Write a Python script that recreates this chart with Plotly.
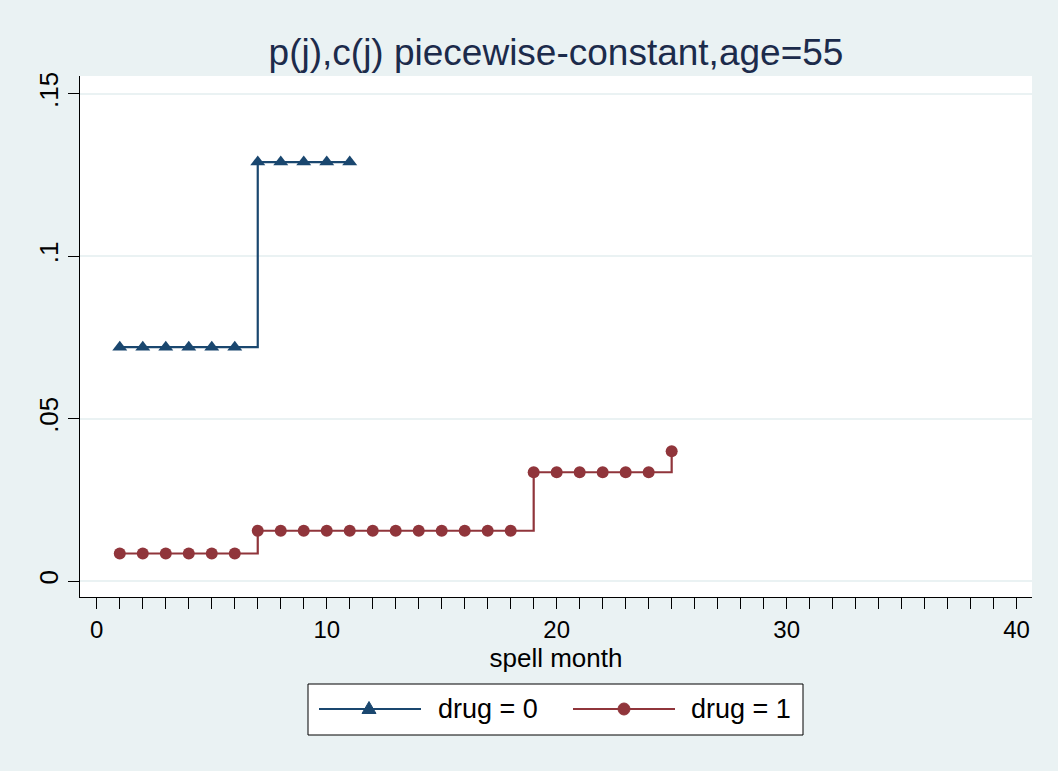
import plotly.graph_objects as go

# ---- data ----
months_drug0 = [1, 2, 3, 4, 5, 6, 7, 8, 9, 10, 11]
p_drug0 = [0.072, 0.072, 0.072, 0.072, 0.072, 0.072, 0.129, 0.129, 0.129, 0.129, 0.129]
months_drug1 = list(range(1, 26))
p_drug1 = [0.0085] * 6 + [0.0155] * 12 + [0.0335] * 6 + [0.040]
legend_labels = ["drug = 0", "drug = 1"]
x_ticks = [0, 10, 20, 30, 40]
y_ticks = [0, 0.05, 0.1, 0.15]
y_ticktext = ["0", ".05", ".1", ".15"]

NAVY = "#1A476F"
MAROON = "#90353B"
BG = "#EAF2F3"
FONT = "Arial, Liberation Sans, sans-serif"

W, H = 1058, 771
ML, MR, MT, MB = 80, 26, 76, 174
PW, PH = W - ML - MR, H - MT - MB


def px(xpix):
    return (xpix - ML) / PW


def py(ypix):
    return (H - MB - ypix) / PH


fig = go.Figure()
fig.add_trace(go.Scatter(
    x=months_drug0, y=p_drug0, mode="lines+markers", line_shape="hv",
    line=dict(color=NAVY, width=2.2),
    marker=dict(symbol="triangle-up", size=13, color=NAVY),
    name=legend_labels[0], showlegend=False))
fig.add_trace(go.Scatter(
    x=months_drug1, y=p_drug1, mode="lines+markers", line_shape="hv",
    line=dict(color=MAROON, width=2.2),
    marker=dict(symbol="circle", size=12, color=MAROON),
    name=legend_labels[1], showlegend=False))

shapes = []
annotations = []
# legend box
shapes.append(dict(type="rect", xref="paper", yref="paper",
                   x0=px(308), x1=px(803), y0=py(735), y1=py(684),
                   line=dict(color="black", width=1), fillcolor="white", layer="above"))
legend_y = py(709)
items = [(319, 421, 369, 436, NAVY, "tri", legend_labels[0]),
         (573, 675, 624, 689, MAROON, "dot", legend_labels[1])]
for x0, x1, xm, xt, col, kind, lab in items:
    shapes.append(dict(type="line", xref="paper", yref="paper",
                       x0=px(x0), x1=px(x1), y0=legend_y, y1=legend_y,
                       line=dict(color=col, width=2.2), layer="above"))
    if kind == "tri":
        shapes.append(dict(type="path", xref="paper", yref="paper",
                           xsizemode="pixel", ysizemode="pixel",
                           xanchor=px(xm), yanchor=legend_y,
                           path="M -7,-4.5 L 7,-4.5 L 0,7.5 Z",
                           fillcolor=col, line=dict(color=col, width=1), layer="above"))
    else:
        shapes.append(dict(type="circle", xref="paper", yref="paper",
                           xsizemode="pixel", ysizemode="pixel",
                           xanchor=px(xm), yanchor=legend_y,
                           x0=-6, x1=6, y0=-6, y1=6,
                           fillcolor=col, line=dict(color=col, width=1), layer="above"))
    annotations.append(dict(xref="paper", yref="paper", x=px(xt), y=legend_y,
                            xanchor="left", yanchor="middle", showarrow=False,
                            text=lab, font=dict(family=FONT, size=27, color="black")))

fig.update_layout(
    width=W, height=H,
    margin=dict(l=ML, r=MR, t=MT, b=MB),
    paper_bgcolor=BG, plot_bgcolor="white",
    font=dict(family=FONT, color="black"),
    title=dict(text="p(j),c(j) piecewise-constant,age=55", x=px(556), xref="paper",
               xanchor="center", y=1 - 52 / H, yref="container", yanchor="middle",
               font=dict(family=FONT, size=37, color="#1C2B4B")),
    shapes=shapes, annotations=annotations,
    showlegend=False,
)
fig.update_xaxes(
    range=[-0.73, 40.67], tickvals=x_ticks, ticks="outside", ticklen=11,
    tickcolor="black", tickwidth=1, showline=True, linecolor="black", linewidth=1,
    showgrid=False, zeroline=False, tickfont=dict(size=24, color="black"),
    minor=dict(dtick=1, tick0=0, ticks="outside", ticklen=11, tickcolor="black", tickwidth=1, showgrid=False),
    title=dict(text="spell month", font=dict(size=26, color="black"), standoff=2),
)
fig.update_yaxes(
    range=[-0.0049, 0.1555], tickvals=y_ticks, ticktext=y_ticktext, ticks="outside",
    ticklen=11, tickcolor="black", tickwidth=1, showline=True, linecolor="black",
    linewidth=1, showgrid=True, gridcolor=BG, gridwidth=2, zeroline=False,
    tickangle=-90, tickfont=dict(size=26, color="black"),
)

fig.write_html("out.html")
